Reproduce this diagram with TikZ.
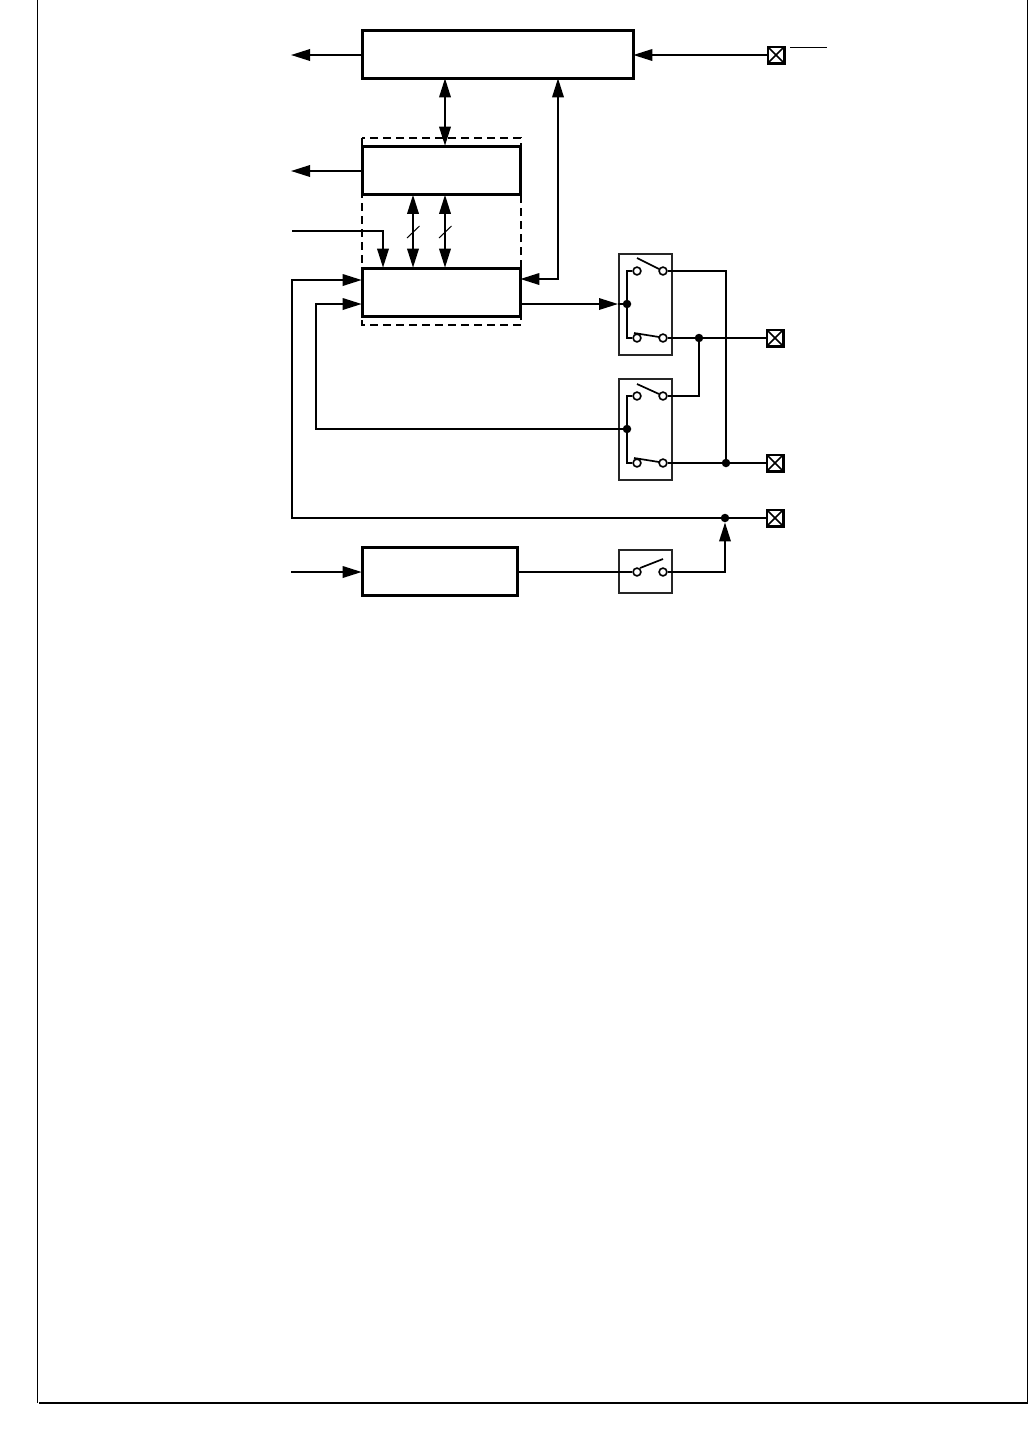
\documentclass[tikz,border=0pt]{standalone}
\usepackage{tikz}
\usetikzlibrary{arrows.meta,positioning,calc}
\tikzset{
  block/.style={draw,line width=3pt,inner sep=0pt,outer sep=0.3pt,fill=white},
  relaybox/.style={draw,line width=2pt,inner sep=0pt,minimum width=53pt,draw=black!85},
  terminal/.style={draw,line width=2.5pt,inner sep=0pt,minimum size=16.5pt,fill=white,
    path picture={
      \draw[line width=1.7pt] (path picture bounding box.north west)--(path picture bounding box.south east);
      \draw[line width=1.7pt] (path picture bounding box.north east)--(path picture bounding box.south west);
    }},
  contact/.style={draw,circle,line width=1.6pt,inner sep=0pt,minimum size=7.8pt,fill=white},
  junction/.style={fill,circle,inner sep=0pt,minimum size=8.5pt},
  wire/.style={line width=1.8pt},
  blade/.style={line width=1.7pt},
  arrow/.style={wire,-{Triangle[length=19pt,width=11.5pt]}},
  biarrow/.style={wire,{Triangle[length=19pt,width=11.5pt]}-{Triangle[length=19pt,width=11.5pt]}},
  slash/.style={line width=1pt},
  framing/.style={line width=1.1pt}
}
\begin{document}
\begin{tikzpicture}[x=1pt,y=-1pt]
  \useasboundingbox (0,0) rectangle (1028,1436);
  % page frame
  \coordinate (ftl) at (37.5,0);
  \coordinate (fbl) at (37.5,1403);
  \coordinate (fb) at (39,1403);
  \coordinate (fbr) at (1027.4,1403);
  \coordinate (ftr) at (1027.4,0);
  \draw[framing] (ftl)--(fbl);
  \draw[framing] (fb)--(fbr)--(ftr);
  % dashed outline
  \coordinate (dnw) at (362,138);
  \coordinate (dse) at (521,325);
  \draw[wire,dash pattern=on 8pt off 5pt] (dnw) rectangle (dse);
  % blocks
  \node[block,minimum width=271pt,minimum height=48pt] (bTop) at (497.5,54) {};
  \node[block,minimum width=158pt,minimum height=48.5pt] (bMid) at (441,170.25) {};
  \node[block,minimum width=158pt,minimum height=48pt] (bLow) at (441,292) {};
  \node[block,minimum width=155pt,minimum height=48pt] (bOsc) at (439.5,571.5) {};
  % relay boxes
  \node[relaybox,minimum height=101pt] (rA) at (645.5,304.5) {};
  \node[relaybox,minimum height=101pt] (rB) at (645.5,429.5) {};
  \node[relaybox,minimum height=43pt] (rC) at (645.5,571.5) {};
  % terminals
  \node[terminal] (tTop) at (776,55) {};
  \node[terminal] (tA) at (775,338) {};
  \node[terminal] (tB) at (775,463) {};
  \node[terminal] (tC) at (775,518) {};
  % free ends
  \coordinate (oTop) at (291,55);
  \coordinate (oMid) at (291,171);
  \coordinate (iCtl) at (292,231);
  \coordinate (iOsc) at (291,572);
  \coordinate (cCtl) at (383,231);
  \coordinate (cOne) at (558,279);
  \coordinate (cTwo) at (292,518);
  \coordinate (cThree) at (316,429);
  \coordinate (cFour) at (725,572);
  \coordinate (cFive) at (726,271);
  \coordinate (cSix) at (699,396);
  % junctions
  \node[junction] (jA) at (627,304) {};
  \node[junction] (jB) at (627,429) {};
  \node[junction] (jC) at (699,338) {};
  \node[junction] (jD) at (726,463) {};
  \node[junction] (jE) at (725,518) {};
  % wires between blocks
  \draw[arrow] (bTop.west |- oTop)--(oTop);
  \draw[arrow] (bMid.west |- oMid)--(oMid);
  \draw[arrow] (tTop)--(tTop -| bTop.east);
  \draw[biarrow] (bTop.south -| 445,0)--(bMid.north -| 445,0);
  \draw[biarrow] (bTop.south -| cOne)--(cOne)--(cOne -| bLow.east);
  \draw[biarrow] (bMid.south -| 413,0)--(bLow.north -| 413,0);
  \draw[biarrow] (bMid.south -| 445,0)--(bLow.north -| 445,0);
  \coordinate (sA1) at (407,238);
  \coordinate (sA2) at (419.5,226);
  \coordinate (sB1) at (439,238);
  \coordinate (sB2) at (451.5,226);
  \draw[slash] (sA1)--(sA2);
  \draw[slash] (sB1)--(sB2);
  \draw[arrow] (iCtl)--(cCtl)--(cCtl |- bLow.north);
  \draw[arrow] (jE)--(cTwo)--(cTwo |- 0,280)--(bLow.west |- 0,280);
  \draw[arrow] (jB)--(cThree)--(cThree |- jA)--(bLow.west |- jA);
  \draw[arrow] (bLow.east |- jA)--(rA.west |- jA);
  \draw[arrow] (iOsc)--(bOsc.west |- iOsc);
  % relay A
  \node[contact] (kA1) at (637,271) {};
  \node[contact] (kA2) at (663,271) {};
  \node[contact] (kA3) at (637,338) {};
  \node[contact] (kA4) at (663,338) {};
  \coordinate (hA1) at (637,258);
  \coordinate (hA2) at (659,269);
  \coordinate (hA3) at (634,333);
  \coordinate (hA4) at (659,337);
  \draw[wire] (rA.west |- jA)--(jA);
  \draw[wire] (kA1)-|(jA);
  \draw[wire] (kA3)-|(jA);
  \draw[blade] (hA1)--(hA2);
  \draw[blade] (hA3)--(hA4);
  % relay B
  \node[contact] (kB1) at (637,396) {};
  \node[contact] (kB2) at (663,396) {};
  \node[contact] (kB3) at (637,463) {};
  \node[contact] (kB4) at (663,463) {};
  \coordinate (hB1) at (637,384);
  \coordinate (hB2) at (659,394);
  \coordinate (hB3) at (634,458);
  \coordinate (hB4) at (659,462);
  \draw[wire] (kB1)-|(jB);
  \draw[wire] (kB3)-|(jB);
  \draw[blade] (hB1)--(hB2);
  \draw[blade] (hB3)--(hB4);
  % relay C
  \node[contact] (kC1) at (637,572) {};
  \node[contact] (kC2) at (663,572) {};
  \coordinate (hC1) at (640,568);
  \coordinate (hC2) at (663,559);
  \draw[wire] (bOsc.east |- kC1)--(kC1);
  \draw[blade] (hC1)--(hC2);
  % outputs
  \draw[wire] (kA2)--(cFive)--(jD);
  \draw[wire] (kA4)--(tA);
  \draw[wire] (kB2)--(cSix)--(jC);
  \draw[wire] (kB4)--(tB);
  \draw[wire] (jE)--(tC);
  \draw[arrow] (kC2)--(cFour)--(jE);
  % top line
  \coordinate (lA) at (790,47);
  \coordinate (lB) at (827,47);
  \draw[slash] (lA)--(lB);
\end{tikzpicture}
\end{document}
